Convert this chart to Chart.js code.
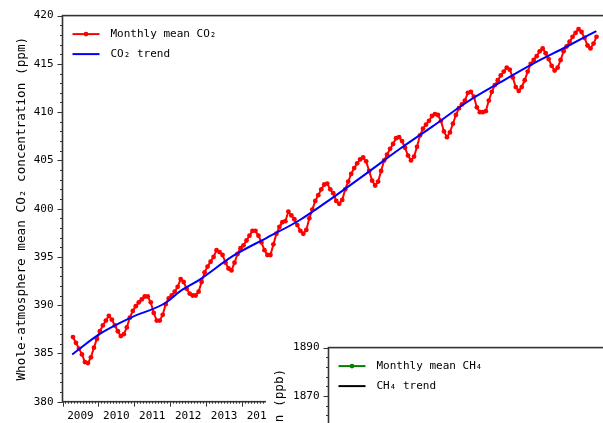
<!DOCTYPE html>
<html>
<head>
<meta charset="utf-8">
<script src="https://cdn.jsdelivr.net/npm/chart.js@4.4.1/dist/chart.umd.min.js"></script>
<style>
  html, body { margin: 0; padding: 0; background: #fff; }
  #page { position: relative; width: 603px; height: 423px; overflow: hidden; background: #fff; }
  #co2 { position: absolute; left: 0; top: 0; }
  #ch4 { position: absolute; left: 266px; top: 332px; background: #fff; }
</style>
</head>
<body>
<div id="page">
  <canvas id="co2" width="660" height="440" style="width:660px;height:440px"></canvas>
  <canvas id="ch4" width="660" height="440" style="width:660px;height:440px"></canvas>
</div>
<script>
// ---- CO2: monthly means, first value is April 2009 ----
const co2FirstYear = 2009;
const co2FirstMonth = 4;
const co2Monthly = [
  // 2009 Apr-Dec
  386.7, 386.1, 385.5, 384.9, 384.1, 384.0, 384.6, 385.6, 386.5,
  // 2010
  387.3, 387.9, 388.4, 388.9, 388.5, 387.9, 387.3, 386.8, 387.0, 387.7, 388.7, 389.4,
  // 2011
  389.9, 390.3, 390.6, 390.9, 390.9, 390.3, 389.2, 388.4, 388.4, 389.0, 390.1, 390.7,
  // 2012
  391.0, 391.4, 391.9, 392.7, 392.4, 391.7, 391.2, 391.0, 391.0, 391.4, 392.4, 393.4,
  // 2013
  394.0, 394.5, 395.0, 395.7, 395.5, 395.2, 394.4, 393.8, 393.6, 394.4, 395.3, 395.9,
  // 2014
  396.2, 396.7, 397.2, 397.7, 397.7, 397.2, 396.5, 395.7, 395.2, 395.2, 396.3, 397.4,
  // 2015
  398.1, 398.6, 398.7, 399.7, 399.3, 398.9, 398.3, 397.7, 397.4, 397.8, 399.0, 399.9,
  // 2016
  400.8, 401.4, 402.0, 402.5, 402.6, 402.0, 401.6, 400.8, 400.5, 400.9, 402.0, 402.8,
  // 2017
  403.6, 404.2, 404.7, 405.1, 405.3, 404.9, 403.9, 402.9, 402.4, 402.8, 403.9, 405.0,
  // 2018
  405.6, 406.2, 406.7, 407.3, 407.4, 407.0, 406.3, 405.5, 405.0, 405.4, 406.4, 407.6,
  // 2019
  408.3, 408.7, 409.1, 409.6, 409.8, 409.7, 409.1, 408.0, 407.4, 407.9, 408.8, 409.7,
  // 2020
  410.4, 410.8, 411.2, 412.0, 412.1, 411.6, 410.5, 410.0, 410.0, 410.1, 411.2, 412.1,
  // 2021
  412.8, 413.3, 413.8, 414.2, 414.6, 414.4, 413.6, 412.6, 412.2, 412.6, 413.3, 414.2,
  // 2022
  415.0, 415.4, 415.8, 416.3, 416.6, 416.1, 415.5, 414.8, 414.3, 414.6, 415.4, 416.3,
  // 2023 Jan-Nov
  416.8, 417.3, 417.8, 418.2, 418.6, 418.3, 417.7, 416.9, 416.6, 417.1, 417.8
];

// ---- CO2 long-term trend (decimal year, ppm) ----
const co2TrendYears = [2009.27, 2010.03, 2010.90, 2011.85, 2012.30, 2012.80, 2013.75, 2014.70,
  2015.60, 2016.55, 2017.45, 2018.40, 2019.30, 2020.25, 2021.20, 2022.10, 2023.05, 2023.87];
const co2TrendValues = [384.9, 387.0, 388.7, 390.2, 391.5, 392.6, 395.1, 397.0,
  398.8, 401.2, 403.6, 406.2, 408.5, 411.0, 413.1, 415.0, 416.8, 418.4];

// ---- CH4 panel (only its upper edge is in view) ----
const ch4Monthly = [];
const ch4Trend = [];

// ---- axes ----
const yearRange = [2009, 2025];
const co2Axis = { min: 380, max: 420, major: 5, minor: 1 };
const ch4Axis = { min: 1730, max: 1890, major: 20, minor: 4 };

const FONT = "'DejaVu Sans Mono', 'Liberation Mono', monospace";
Chart.defaults.font.family = FONT;
Chart.defaults.color = '#000';

function monthlyPoints(firstYear, firstMonth, values) {
  return values.map((v, i) => ({ x: firstYear + (firstMonth - 1 + i + 0.5) / 12, y: v }));
}
function pairPoints(xs, ys) {
  return xs.map((x, i) => ({ x, y: ys[i] }));
}

// Plot frame plus outward major/minor tick marks
const frame = {
  id: 'frame',
  afterDatasetsDraw(chart, args, opts) {
    const { ctx, chartArea: a, scales: { x, y } } = chart;
    ctx.save();
    ctx.strokeStyle = '#333';
    ctx.lineWidth = 1.6;
    ctx.strokeRect(a.left, a.top, a.right - a.left, a.bottom - a.top);
    ctx.lineWidth = 1;
    ctx.beginPath();
    const nY = Math.round((y.max - y.min) / opts.yMinor);
    for (let k = 0; k <= nY; k++) {
      const v = y.min + k * opts.yMinor;
      const py = Math.round(y.getPixelForValue(v)) + 0.5;
      const len = (k * opts.yMinor) % opts.yMajor === 0 ? 5 : 2.5;
      ctx.moveTo(a.left - len, py);
      ctx.lineTo(a.left, py);
    }
    const nX = Math.round((x.max - x.min) * 12);
    for (let m = 0; m <= nX; m++) {
      const px = Math.round(x.getPixelForValue(x.min + m / 12)) + 0.5;
      const len = m % 12 === 0 ? 5 : 2;
      ctx.moveTo(px, a.bottom);
      ctx.lineTo(px, a.bottom + len);
    }
    ctx.stroke();
    ctx.restore();
  }
};

// Legend drawn inside the top-left corner of the plot
const insideLegend = {
  id: 'insideLegend',
  afterDraw(chart) {
    const { ctx, chartArea: a } = chart;
    ctx.save();
    ctx.font = "11px " + FONT;
    ctx.textBaseline = 'middle';
    chart.data.datasets.forEach((ds, i) => {
      const yy = a.top + 18.5 + i * 20;
      const x0 = a.left + 10, x1 = a.left + 37;
      ctx.strokeStyle = ds.borderColor;
      ctx.lineWidth = 2;
      ctx.beginPath();
      ctx.moveTo(x0, yy);
      ctx.lineTo(x1, yy);
      ctx.stroke();
      if (ds.pointRadius > 0) {
        ctx.fillStyle = ds.pointBackgroundColor;
        ctx.beginPath();
        ctx.arc((x0 + x1) / 2, yy, ds.pointRadius, 0, Math.PI * 2);
        ctx.fill();
      }
      ctx.fillStyle = '#000';
      ctx.fillText(ds.label, a.left + 48, yy + 0.5);
    });
    ctx.restore();
  }
};

function makePanel(canvasId, axis, title, titleGap, datasets) {
  return new Chart(document.getElementById(canvasId), {
    type: 'line',
    data: { datasets },
    options: {
      responsive: false,
      animation: false,
      events: [],
      layout: { padding: { top: 15, right: 23.1, left: 0, bottom: 0 } },
      plugins: {
        legend: { display: false },
        tooltip: { enabled: false },
        frame: { yMajor: axis.major, yMinor: axis.minor }
      },
      scales: {
        x: {
          type: 'linear',
          min: yearRange[0],
          max: yearRange[1],
          grid: { display: false, drawTicks: false },
          border: { display: false },
          afterFit(scale) { scale.height = 440 - 401.7; },
          afterBuildTicks(scale) {
            const ticks = [];
            for (let yr = yearRange[0]; yr < yearRange[1]; yr++) ticks.push({ value: yr + 0.5 });
            scale.ticks = ticks;
          },
          ticks: {
            padding: 8,
            maxRotation: 0,
            autoSkip: false,
            font: { size: 11 },
            callback: (v) => String(Math.floor(v))
          }
        },
        y: {
          min: axis.min,
          max: axis.max,
          grid: { display: false, drawTicks: false },
          border: { display: false },
          afterFit(scale) { scale.width = 62.5; },
          ticks: {
            stepSize: axis.major,
            padding: 9,
            font: { size: 11 },
            callback: (v) => String(v)
          },
          title: {
            display: true,
            text: title,
            font: { size: 12.7 },
            padding: { top: titleGap, bottom: 0 }
          }
        }
      }
    },
    plugins: [frame, insideLegend]
  });
}

makePanel('co2', co2Axis, 'Whole-atmosphere mean CO\u2082 concentration (ppm)', 14, [
  {
    label: 'Monthly mean CO\u2082',
    data: monthlyPoints(co2FirstYear, co2FirstMonth, co2Monthly),
    borderColor: '#ff0000',
    backgroundColor: '#ff0000',
    pointBackgroundColor: '#ff0000',
    pointBorderWidth: 0,
    pointRadius: 2.4,
    borderWidth: 2,
    tension: 0,
    order: 1
  },
  {
    label: 'CO\u2082 trend',
    data: pairPoints(co2TrendYears, co2TrendValues),
    borderColor: '#0000ff',
    backgroundColor: '#0000ff',
    pointRadius: 0,
    borderWidth: 2,
    cubicInterpolationMode: 'monotone',
    order: 0
  }
]);

makePanel('ch4', ch4Axis, 'Whole-atmosphere mean CH\u2084 concentration (ppb)', 6, [
  {
    label: 'Monthly mean CH\u2084',
    data: ch4Monthly,
    borderColor: '#008000',
    backgroundColor: '#008000',
    pointBackgroundColor: '#008000',
    pointBorderWidth: 0,
    pointRadius: 2.4,
    borderWidth: 2,
    order: 1
  },
  {
    label: 'CH\u2084 trend',
    data: ch4Trend,
    borderColor: '#000000',
    backgroundColor: '#000000',
    pointRadius: 0,
    borderWidth: 2,
    order: 0
  }
]);
</script>
</body>
</html>
